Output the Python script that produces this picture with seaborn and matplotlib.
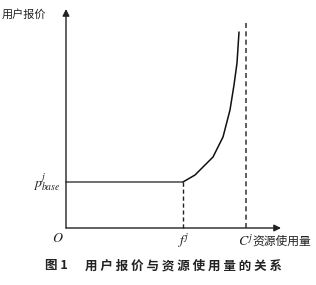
import matplotlib
matplotlib.use("Agg")
import matplotlib.pyplot as plt
import seaborn as sns
import pandas as pd

sns.set_theme(style="white")
plt.rcParams['font.family'] = ['Noto Sans CJK SC', 'DejaVu Sans']
plt.rcParams['mathtext.fontset'] = 'stix'

# data (arbitrary units; origin at 0,0)
f_j = 117
C_j = 180
p_base = 46
curve_x = [117, 129, 147, 157, 164, 168, 171, 173]
curve_y = [46, 53, 71, 91, 118, 143, 165, 196]
flat_x = [0, 117]
flat_y = [46, 46]

x_label = "资源使用量"
y_label = "用户报价"
caption_num = "图 1"
caption = "用户报价与资源使用量的关系"

fig = plt.figure(figsize=(3.16, 2.85), dpi=100)
ax = fig.add_axes([0, 0, 1, 1])
ax.set_xlim(-66, 250)
ax.set_ylim(-57, 228)
ax.axis('off')

# axes with arrows
ax.annotate('', xy=(0, 219), xytext=(0, 0),
            arrowprops=dict(arrowstyle='-|>', color='#222222', lw=1.0,
                            mutation_scale=10, shrinkA=0, shrinkB=0))
ax.annotate('', xy=(215, 0), xytext=(0, 0),
            arrowprops=dict(arrowstyle='-|>', color='#222222', lw=1.0,
                            mutation_scale=10, shrinkA=0, shrinkB=0))

df_flat = pd.DataFrame({'x': flat_x, 'y': flat_y})
sns.lineplot(data=df_flat, x='x', y='y', ax=ax, color='#555555', lw=1.2, sort=False)
df_curve = pd.DataFrame({'x': curve_x, 'y': curve_y})
sns.lineplot(data=df_curve, x='x', y='y', ax=ax, color='#111111', lw=1.1, sort=False)

ax.plot([f_j, f_j], [0, p_base], ls=(0, (3, 2)), color='#222222', lw=1.0)
ax.plot([C_j, C_j], [0, 206], ls=(0, (3, 2)), color='#444444', lw=1.2)

ax.set_xlabel('')
ax.set_ylabel('')

ax.text(-64, 214, y_label, fontsize=8, ha='left', va='center', color='#222222')
ax.text(-8, -10, '$O$', fontsize=10, ha='center', va='center', color='#222222')
ax.text(-5, p_base - 1, '$p^{j}_{base}$', fontsize=10, ha='right', va='center', color='#222222')
ax.text(f_j, -13, '$f^{j}$', fontsize=10, ha='center', va='center', color='#222222')
ax.text(C_j, -13, '$C^{j}$', fontsize=10, ha='center', va='center', color='#222222')
ax.text(C_j + 6, -13, x_label, fontsize=8.5, ha='left', va='center', color='#222222')

ax.text(-21, -38, caption_num, fontsize=9, fontweight='bold', ha='left', va='center', color='#222222')
ax.text(19, -38, ' '.join(caption), fontsize=9, fontweight='bold', ha='left', va='center', color='#222222')

fig.savefig('out.png', dpi=100)
